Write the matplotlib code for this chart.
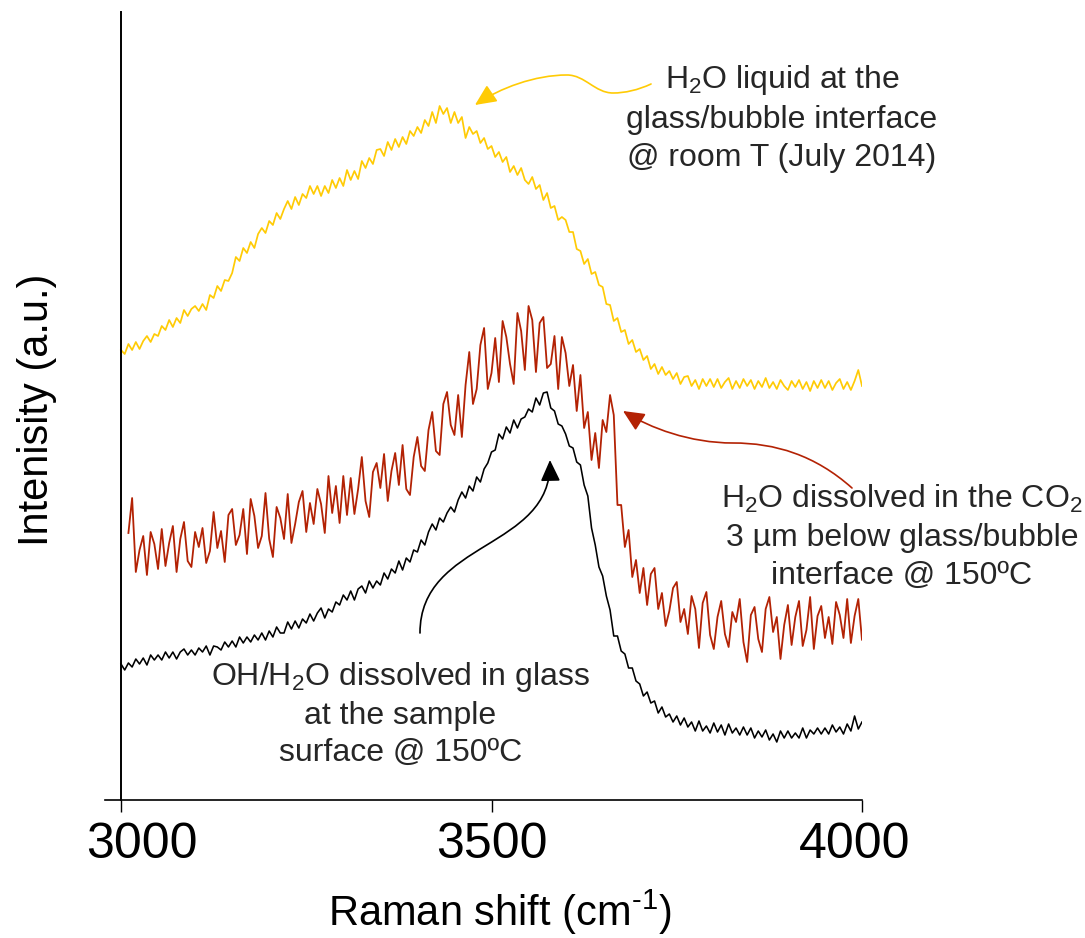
import numpy as np
import matplotlib
matplotlib.use("Agg")
import matplotlib.pyplot as plt
import matplotlib.transforms as mtransforms
from matplotlib.patches import FancyArrowPatch
from matplotlib.path import Path

plt.rcParams['font.family'] = ['Liberation Sans', 'DejaVu Sans']
plt.rcParams['mathtext.fontset'] = 'custom'
plt.rcParams['mathtext.rm'] = 'Liberation Sans'
plt.rcParams['mathtext.it'] = 'Liberation Sans:italic'
plt.rcParams['mathtext.bf'] = 'Liberation Sans:bold'

# ---------------- data (Raman shift in cm-1, intensity in a.u.) ----------------
x_liquid = np.arange(3000, 4001, 5)
liquid = [
    450, 446, 456, 450, 458, 451, 459, 464, 458, 466,
    464, 474, 470, 480, 473, 482, 477, 490, 484, 491,
    494, 489, 496, 490, 505, 502, 514, 509, 520, 519,
    527, 543, 539, 552, 547, 558, 552, 566, 572, 567,
    579, 575, 587, 581, 591, 599, 591, 603, 595, 606,
    602, 614, 606, 614, 604, 614, 607, 620, 612, 622,
    614, 630, 620, 629, 621, 639, 632, 642, 636, 650,
    651, 644, 658, 650, 661, 653, 663, 656, 669, 664,
    673, 667, 680, 674, 688, 677, 694, 686, 692, 677,
    688, 677, 683, 662, 673, 666, 669, 657, 662, 651,
    654, 643, 648, 638, 643, 628, 634, 625, 632, 620,
    616, 623, 611, 615, 600, 607, 592, 594, 580, 583,
    580, 568, 568, 551, 549, 536, 541, 526, 528, 515,
    513, 496, 495, 479, 482, 468, 470, 456, 460, 448,
    451, 440, 444, 431, 436, 426, 433, 425, 429, 421,
    427, 416, 423, 424, 414, 420, 411, 421, 414, 421,
    413, 421, 412, 418, 422, 411, 419, 412, 421, 414,
    420, 411, 419, 413, 422, 412, 418, 411, 420, 414,
    410, 419, 413, 420, 411, 418, 409, 419, 412, 420,
    412, 419, 410, 417, 421, 411, 418, 410, 419, 430, 414,
]

x_co2 = np.arange(3010, 4011, 5)
co2 = [
    267, 302, 228, 250, 264, 225, 268, 256, 231, 271,
    234, 257, 274, 228, 261, 278, 239, 233, 268, 253,
    272, 237, 249, 288, 252, 269, 238, 285, 291, 255,
    265, 291, 246, 301, 284, 252, 264, 307, 261, 243,
    293, 282, 261, 306, 257, 276, 298, 309, 268, 297,
    276, 311, 296, 267, 324, 287, 314, 277, 324, 285,
    322, 286, 311, 343, 299, 283, 328, 337, 312, 346,
    299, 329, 347, 315, 355, 311, 305, 343, 363, 334,
    329, 370, 388, 349, 345, 396, 408, 375, 365, 405,
    363, 415, 448, 396, 411, 455, 472, 411, 427, 462,
    418, 479, 463, 436, 416, 487, 469, 430, 494, 480,
    428, 477, 483, 432, 436, 464, 411, 463, 447, 414,
    435, 389, 425, 372, 388, 340, 367, 332, 380, 368,
    405, 385, 295, 295, 253, 270, 223, 240, 207, 232,
    195, 226, 232, 191, 207, 174, 189, 212, 218, 178,
    191, 166, 204, 191, 152, 197, 208, 165, 151, 183,
    199, 166, 153, 188, 178, 201, 158, 138, 185, 193,
    161, 148, 191, 203, 168, 183, 141, 175, 195, 155,
    183, 199, 154, 170, 203, 151, 184, 194, 162, 183,
    156, 198, 185, 162, 201, 157, 184, 201, 160, 176, 137,
]

x_glass = np.arange(3000, 4001, 5)
glass = [
    136, 130, 137, 133, 141, 136, 142, 135, 145, 140,
    145, 140, 148, 142, 148, 141, 148, 151, 145, 150,
    145, 152, 148, 154, 145, 154, 153, 150, 158, 153,
    159, 153, 163, 157, 163, 158, 165, 160, 167, 160,
    169, 163, 173, 167, 167, 178, 171, 179, 172, 181,
    177, 186, 179, 187, 192, 182, 191, 188, 198, 195,
    205, 200, 209, 200, 211, 214, 207, 219, 212, 219,
    215, 227, 221, 231, 227, 239, 230, 242, 238, 250,
    248, 260, 255, 268, 276, 270, 282, 278, 287, 293,
    288, 300, 308, 302, 314, 309, 323, 318, 331, 337,
    348, 350, 366, 361, 373, 367, 380, 372, 381, 383,
    391, 388, 402, 395, 407, 408, 392, 389, 376, 374,
    366, 354, 352, 338, 335, 315, 304, 272, 255, 233,
    224, 204, 190, 164, 164, 149, 146, 132, 132, 119,
    116, 104, 108, 97, 99, 87, 93, 83, 86, 78,
    84, 75, 82, 73, 78, 69, 79, 69, 74, 67,
    77, 68, 75, 65, 76, 67, 72, 65, 73, 65,
    72, 62, 69, 63, 70, 60, 66, 58, 69, 62,
    69, 62, 67, 62, 72, 62, 70, 66, 72, 66,
    72, 66, 75, 68, 73, 66, 76, 69, 84, 71, 78,
]

xticks = [3000, 3500, 4000]

label_liquid = "H$_\\mathregular{2}$O liquid at the\nglass/bubble interface\n@ room T (July 2014)"
label_co2 = "H$_\\mathregular{2}$O dissolved in the CO$_\\mathregular{2}$\n3 \u00b5m below glass/bubble\ninterface @ 150\u00baC"
label_glass = "OH/H$_\\mathregular{2}$O dissolved in glass\nat the sample\nsurface @ 150\u00baC"

c_yellow = "#FFCB05"
c_red = "#B32204"
c_black = "#000000"
c_text = "#262626"

# ---------------- figure ----------------
W, H = 1085, 938
fig = plt.figure(figsize=(W / 100, H / 100), dpi=100)
ax = fig.add_axes([105 / W, 1 - 800 / H, (862 - 105) / W, (800 - 12) / H])

ax.plot(x_liquid, liquid, color=c_yellow, lw=1.25)
ax.plot(x_co2, co2, color=c_red, lw=1.3)
ax.plot(x_glass, glass, color=c_black, lw=1.15)

ax.set_xlim(3000 - 16 / 0.741, 4000)
ax.set_ylim(0, 788)

for s in ['top', 'right']:
    ax.spines[s].set_visible(False)
ax.spines['left'].set_position(('data', 3000))
ax.spines['left'].set_linewidth(1.4)
ax.spines['bottom'].set_linewidth(1.2)
ax.set_yticks([])
ax.set_xticks(xticks)
ax.set_xticklabels([str(t) for t in xticks])
ax.tick_params(axis='x', direction='out', length=8.5, width=1.0, pad=7, labelsize=36)
# shift the outer tick labels slightly, as in the original layout
shifts = [21, 0, -7]
for lab, dx in zip(ax.get_xticklabels(), shifts):
    lab.set_transform(lab.get_transform() +
                      mtransforms.ScaledTranslation(dx / 100, 0, fig.dpi_scale_trans))

fig.text(500 / W, 1 - 926 / H, "Raman shift (cm$^\\mathregular{\u2010 1}$)", ha='center',
         va='baseline', fontsize=30)
fig.text(37 / W, 1 - 410 / H, "Intenisity (a.u.)", ha='center', va='center', rotation=90,
         fontsize=30)

# annotations
ax.text(3892, 682, label_liquid, ha='center', va='center', multialignment='center',
        fontsize=23, color=c_text, linespacing=1.33, clip_on=False)
ax.text(4054, 263, label_co2, ha='center', va='center', multialignment='center',
        fontsize=23, color=c_text, linespacing=1.33, clip_on=False)
ax.text(3377, 86, label_glass, ha='center', va='center', multialignment='center',
        fontsize=23, color=c_text, linespacing=1.3, clip_on=False)

C4 = Path.CURVE4
arrows = [
    ([(3715.3, 716), (3697.7, 710), (3680.2, 707), (3664.0, 707),
      (3639.7, 707), (3626.2, 725), (3601.9, 725),
      (3558.7, 725), (3511.5, 712), (3477.7, 695)], c_yellow),
    ([(3986.5, 312), (3936.6, 345), (3882.6, 357), (3825.9, 357),
      (3767.9, 357), (3713.9, 372), (3677.5, 389)], c_red),
    ([(3403.5, 167), (3403.5, 260), (3581.6, 250), (3578.9, 340)], c_black),
]
for verts, col in arrows:
    codes = [Path.MOVETO] + [C4] * (len(verts) - 1)
    p = FancyArrowPatch(path=Path(verts, codes),
                        arrowstyle="-|>,head_length=13,head_width=6",
                        mutation_scale=1, color=col, lw=1.2, clip_on=False)
    ax.add_patch(p)

fig.savefig("out.png", dpi=100)
